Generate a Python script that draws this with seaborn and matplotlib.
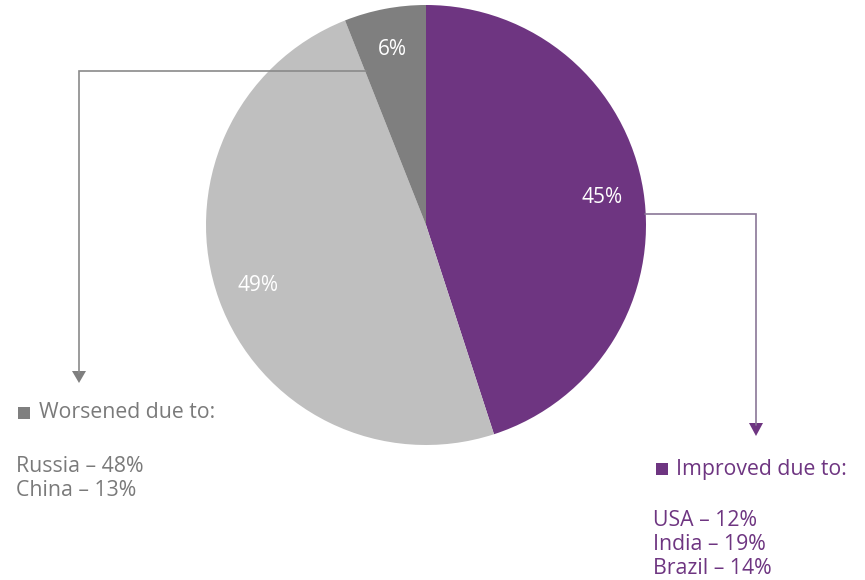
import matplotlib
matplotlib.use("Agg")
import matplotlib.pyplot as plt
import seaborn as sns
from matplotlib.patches import Rectangle, Polygon

# Share of change, clockwise from 12 o'clock
segments = ["Improved", "No change", "Worsened"]
shares = [45, 49, 6]
colors = ["#6e3581", "#bfbfbf", "#7f7f7f"]

worsened_title = "Worsened due to:"
worsened_items = ["Russia – 48%", "China – 13%"]
improved_title = "Improved due to:"
improved_items = ["USA – 12%", "India – 19%", "Brazil – 14%"]

sns.set_theme(style="white")
plt.rcParams["font.family"] = ["Open Sans", "DejaVu Sans"]

W, H = 865, 580
fig = plt.figure(figsize=(W / 100, H / 100), dpi=100)
fig.patch.set_facecolor("white")

# Pie axes: centre (426, 225) px, radius 220 px
cx, cy, r = 426, 225, 220
ax = fig.add_axes([(cx - r) / W, (H - cy - r) / H, 2 * r / W, 2 * r / H])
wedges, texts, autotexts = ax.pie(
    shares,
    colors=colors,
    startangle=90,
    counterclock=False,
    radius=1,
    autopct=lambda p: f"{p:.0f}%",
    pctdistance=0.81,
    wedgeprops=dict(linewidth=0),
    textprops=dict(color="white", fontsize=15),
)
ax.set_xlim(-1, 1)
ax.set_ylim(-1, 1)
ax.set_aspect("equal")
ax.axis("off")

# Overlay in pixel coordinates for connectors and notes
ov = fig.add_axes([0, 0, 1, 1], facecolor="none")
ov.set_xlim(0, W)
ov.set_ylim(H, 0)
ov.axis("off")

grey_line = "#8a8a8a"
purple_line = "#8a7797"
purple_head = "#6e3581"

# Worsened connector
ov.plot([366, 79, 79], [71, 71, 373], color=grey_line, lw=1.2, solid_joinstyle="miter")
ov.add_patch(Polygon([[72, 371], [86, 371], [79, 383]], closed=True, color="#7f7f7f", lw=0))

# Improved connector
ov.plot([645, 756, 756], [214, 214, 425], color=purple_line, lw=1.2, solid_joinstyle="miter")
ov.add_patch(Polygon([[749, 423], [763, 423], [756, 436]], closed=True, color=purple_head, lw=0))

fs = 15.3

# Worsened note
grey_text = "#7a7a7a"
ov.add_patch(Rectangle((18, 407), 12, 12, color="#7f7f7f", lw=0))
ov.text(39, 413, worsened_title, color=grey_text, fontsize=fs, va="center", ha="left")
for i, item in enumerate(worsened_items):
    ov.text(16, 466 + 24 * i, item, color=grey_text, fontsize=fs, va="center", ha="left")

# Improved note
purple_text = "#6e3581"
ov.add_patch(Rectangle((656, 463), 12, 12, color=purple_head, lw=0))
ov.text(676, 469, improved_title, color=purple_text, fontsize=fs, va="center", ha="left")
for i, item in enumerate(improved_items):
    ov.text(653, 521 + 24 * i, item, color=purple_text, fontsize=fs, va="center", ha="left")

fig.savefig("out.png", dpi=100, facecolor="white")
